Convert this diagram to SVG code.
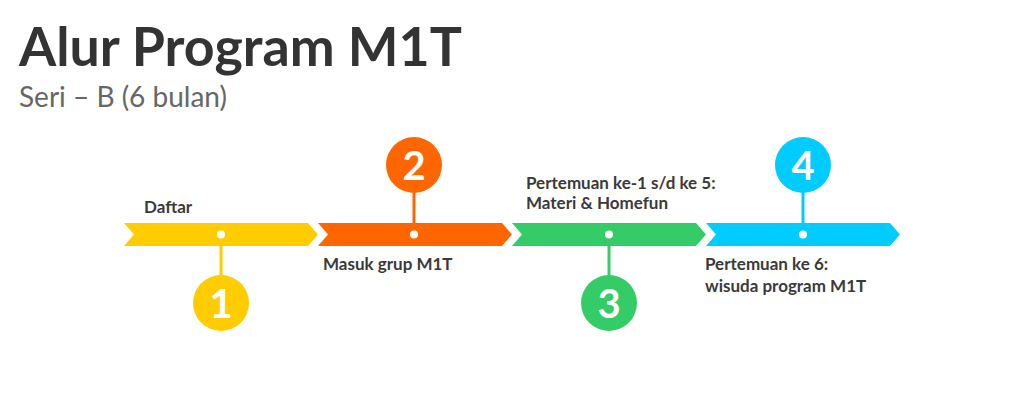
<svg xmlns="http://www.w3.org/2000/svg" width="1024" height="396" viewBox="0 0 1024 396">
<style>
.title{font-family:Lato,"Liberation Sans",sans-serif;font-weight:700;font-size:53.7px;fill:#333333}
.sub{font-family:Lato,"Liberation Sans",sans-serif;font-weight:400;font-size:28px;fill:#666666}
.lbl{font-family:Lato,"Liberation Sans",sans-serif;font-weight:700;font-size:17px;fill:#3a3a3a}
.num{font-family:Lato,"Liberation Sans",sans-serif;font-weight:700;font-size:40px;fill:#ffffff;text-anchor:middle}
.dot{fill:#ffffff}
</style>
<defs>
<polygon id="seg" points="0,223 184,223 194,234.5 184,246 0,246 10,234.5"/>
</defs>
<rect width="1024" height="396" fill="#ffffff"/>
<text class="title" x="19" y="66">Alur Program M1T</text>
<text class="sub" x="19" y="107">Seri – B (6 bulan)</text>
<g id="connectors">
<line x1="221" y1="234.5" x2="221" y2="280" stroke="#FFCC00" stroke-width="3"/>
<line x1="414" y1="234.5" x2="414" y2="190" stroke="#FF6600" stroke-width="3"/>
<line x1="609" y1="234.5" x2="609" y2="280" stroke="#33CC66" stroke-width="3"/>
<line x1="803" y1="234.5" x2="803" y2="190" stroke="#00CCFF" stroke-width="3"/>
</g>
<g id="step1">
<use href="#seg" x="124" fill="#FFCC00"/>
<circle class="dot" cx="221" cy="234.5" r="4"/>
<circle cx="221" cy="303" r="28" fill="#FFCC00"/>
<text class="num" x="221" y="318">1</text>
<text class="lbl" x="144" y="213">Daftar</text>
</g>
<g id="step2">
<use href="#seg" x="318" fill="#FF6600"/>
<circle class="dot" cx="414" cy="234.5" r="4"/>
<circle cx="414" cy="165" r="28" fill="#FF6600"/>
<text class="num" x="414" y="180">2</text>
<text class="lbl" x="323" y="270">Masuk grup M1T</text>
</g>
<g id="step3">
<use href="#seg" x="512" fill="#33CC66"/>
<circle class="dot" cx="609" cy="234.5" r="4"/>
<circle cx="609" cy="303" r="28" fill="#33CC66"/>
<text class="num" x="609" y="318">3</text>
<text class="lbl" x="526" y="189">Pertemuan ke-1 s/d ke 5:</text>
<text class="lbl" x="526" y="209">Materi &amp; Homefun</text>
</g>
<g id="step4">
<use href="#seg" x="706" fill="#00CCFF"/>
<circle class="dot" cx="803" cy="234.5" r="4"/>
<circle cx="803" cy="165" r="28" fill="#00CCFF"/>
<text class="num" x="803" y="180">4</text>
<text class="lbl" x="705" y="270">Pertemuan ke 6:</text>
<text class="lbl" x="705" y="292">wisuda program M1T</text>
</g>
</svg>
